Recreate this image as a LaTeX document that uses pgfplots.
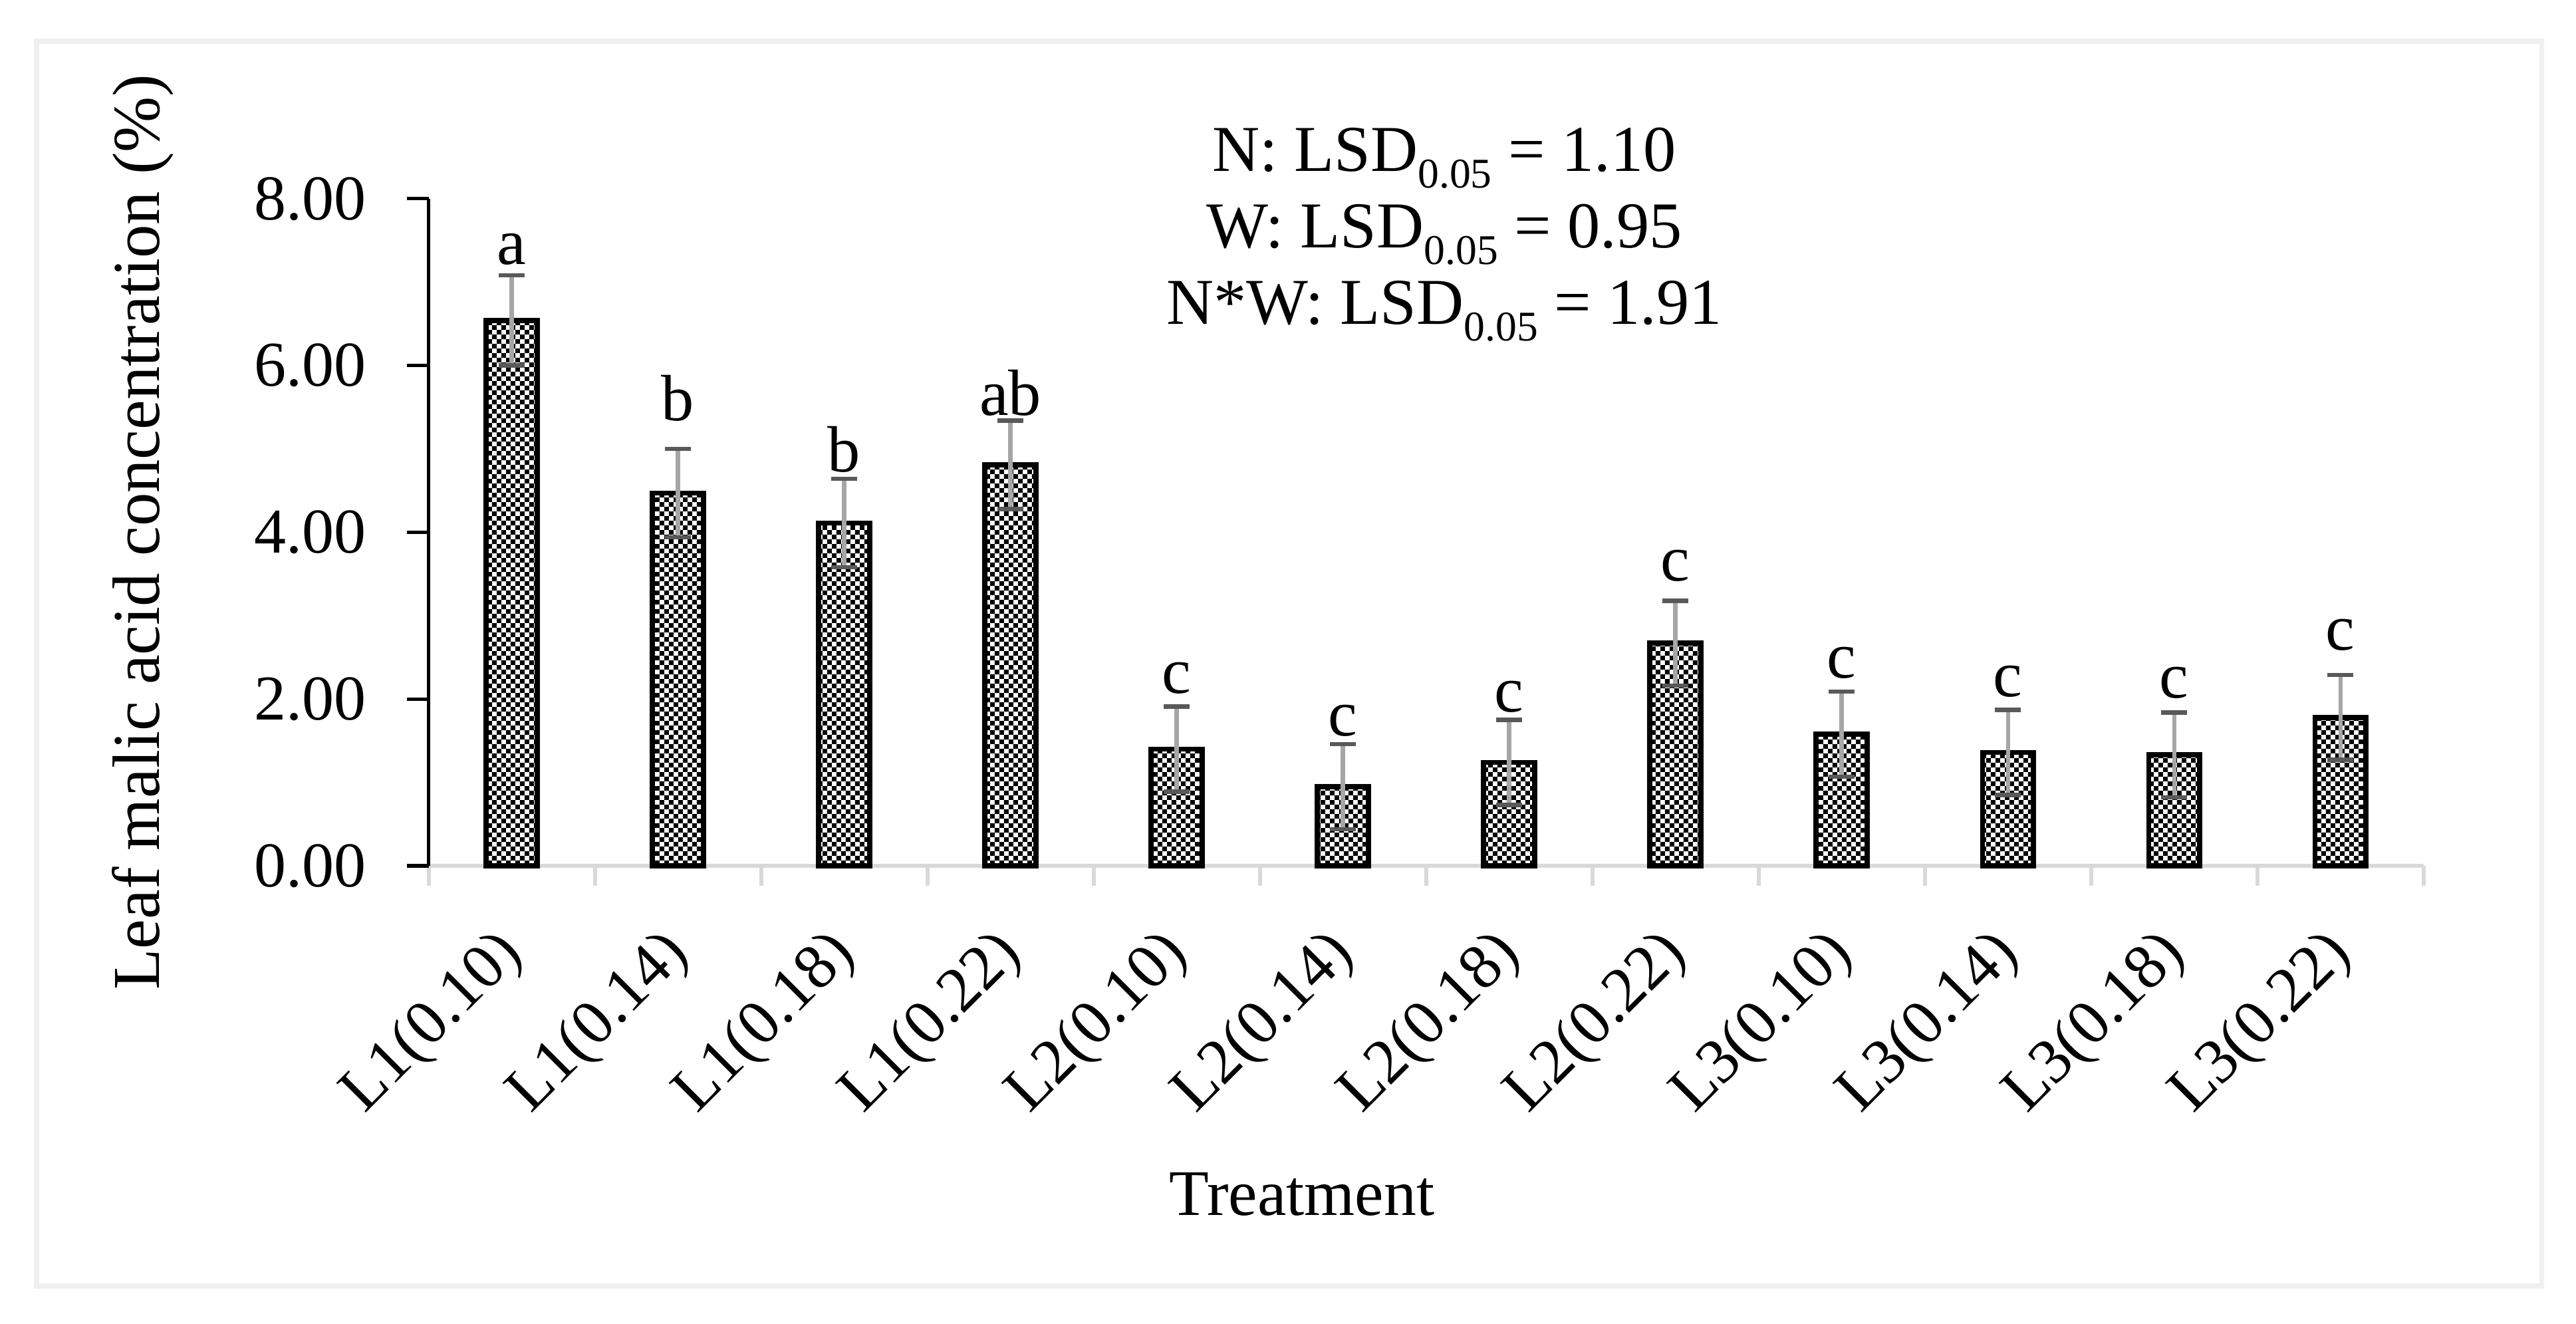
\documentclass[border=0pt]{standalone}
\usepackage{fontspec}
\setmainfont{Liberation Serif}
\usepackage{pgfplots}
\usepackage{pgfplotstable}
\pgfplotsset{compat=1.18}
\usetikzlibrary{patterns}

\definecolor{axgray}{HTML}{D9D9D9}
\definecolor{errlight}{HTML}{A6A6A6}
\definecolor{errdark}{HTML}{595959}
\definecolor{framegray}{HTML}{F0F0F0}

\pgfdeclarepatternformonly{fineChecker}{\pgfpointorigin}{\pgfqpoint{2.4pt}{2.4pt}}{\pgfqpoint{2.4pt}{2.4pt}}{%
  \pgfpathrectangle{\pgfpointorigin}{\pgfqpoint{1.2pt}{1.2pt}}%
  \pgfpathrectangle{\pgfqpoint{1.2pt}{1.2pt}}{\pgfqpoint{1.2pt}{1.2pt}}%
  \pgfusepath{fill}}

\newcommand{\lsd}{LSD\raisebox{-4.2pt}{\fontsize{10.6}{11}\selectfont 0.05}}

\pgfplotstableread{
x val err
0 6.54 0.54
1 4.47 0.53
2 4.11 0.53
3 4.81 0.53
4 1.40 0.51
5 0.95 0.51
6 1.24 0.51
7 2.67 0.51
8 1.58 0.51
9 1.36 0.51
10 1.33 0.51
11 1.78 0.51
}\datatable

\begin{document}
\begin{tikzpicture}
\useasboundingbox (-107.42pt,-114.83pt) rectangle (538.25pt,217pt);
\begin{axis}[
  scale only axis,
  width=500.03pt, height=167.2pt,
  xmin=-0.5, xmax=11.5, ymin=0, ymax=8,
  clip=false,
  font=\fontsize{16}{19}\selectfont,
  axis x line*=bottom, axis y line*=left,
  x axis line style={draw=axgray, line width=1pt, -},
  y axis line style={draw=black, line width=0.85pt, -},
  tick align=outside,
  ytick={0,2,4,6,8},
  yticklabel style={xshift=-6.7pt, /pgf/number format/.cd, fixed, fixed zerofill, precision=2, assume math mode=true},
  ytick style={draw=black, line width=0.85pt},
  major tick length=5.5pt,
  xtick={0,...,11},
  xticklabels={L1(0.10),L1(0.14),L1(0.18),L1(0.22),L2(0.10),L2(0.14),L2(0.18),L2(0.22),L3(0.10),L3(0.14),L3(0.18),L3(0.22)},
  major x tick style={draw=none},
  minor xtick={-0.5,0.5,...,11.5},
  minor x tick style={draw=axgray, line width=1pt},
  minor tick length=5pt,
  xticklabel style={xshift=2.8pt, yshift=-11.7pt, rotate=45, anchor=east},
  xlabel={Treatment},
  xlabel style={at={(axis description cs:0.4378,0)}, yshift=-82.3pt, anchor=center, font=\fontsize{16.3}{19}\selectfont},
  ylabel={Leaf malic acid concentration (\%)},
  ylabel style={at={(axis description cs:-0.1432,0.5)}, anchor=center, font=\fontsize{16.8}{19}\selectfont},
]
\addplot[ybar, bar width=12.8pt, draw=black, line width=1.25pt,
  pattern=fineChecker, pattern color=black,
  error bars/.cd, y dir=both, y explicit,
  error bar style={draw=errlight, line width=1.05pt},
  error mark options={rotate=90, mark size=3.3pt, draw=errdark, line width=1.1pt}]
  table[x=x, y=val, y error=err] {\datatable};
\addplot[draw=none, mark=none, nodes near coords, point meta=explicit symbolic,
  every node near coord/.style={anchor=base, inner sep=0pt, font=\fontsize{16.4}{19}\selectfont}]
  coordinates {(0,7.216)[a] (1,5.340)[b] (2,4.722)[b] (3,5.400)[ab] (4,2.068)[c] (5,1.558)[c]
               (6,1.850)[c] (7,3.419)[c] (8,2.255)[c] (9,2.031)[c] (10,2.016)[c] (11,2.590)[c]};
\node[anchor=base, font=\fontsize{16.4}{19}\selectfont] at (axis cs:5.61,8.327) {N: \lsd{} = 1.10};
\node[anchor=base, font=\fontsize{16.4}{19}\selectfont] at (axis cs:5.61,7.410) {W: \lsd{} = 0.95};
\node[anchor=base, font=\fontsize{16.4}{19}\selectfont] at (axis cs:5.61,6.493) {N*W: \lsd{} = 1.91};
\end{axis}
\draw[draw=framegray, line width=1.25pt] (-98.25pt,-105.33pt) rectangle (529.67pt,206.67pt);
\end{tikzpicture}
\end{document}
